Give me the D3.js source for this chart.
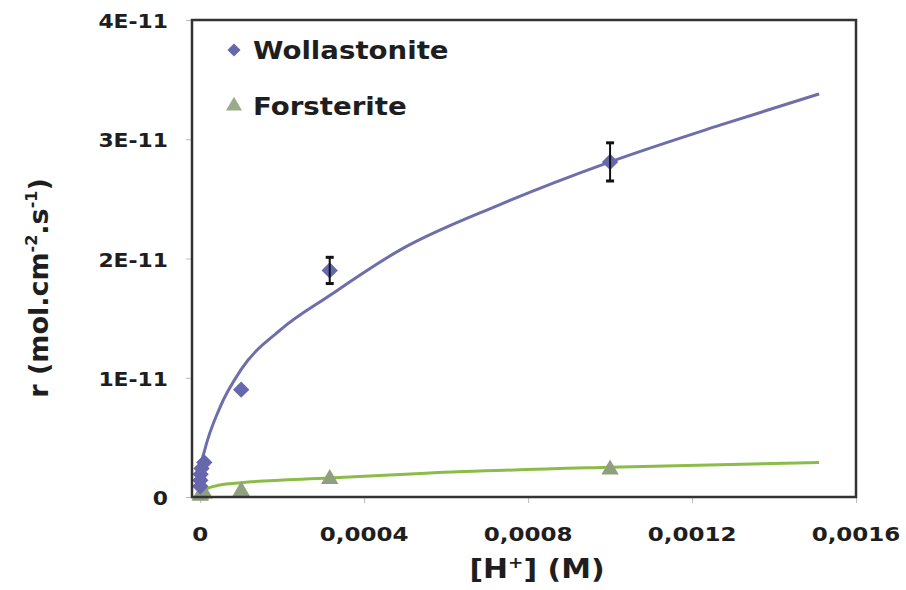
<!DOCTYPE html>
<html>
<head>
<meta charset="utf-8">
<script src="https://cdn.jsdelivr.net/npm/d3@7"></script>
<style>
  body { margin: 0; background: #fff; }
  text { font-family: "DejaVu Sans", "Open Sans", sans-serif; }
</style>
</head>
<body>
<div id="chart-area"></div>
<script>
// values, r in units of 1E-11
const wollX = [1e-7, 3e-7, 1e-6, 3.16e-6, 1e-5, 1e-4, 3.16e-4, 1e-3];
const wollR = [0.09, 0.14, 0.19, 0.24, 0.29, 0.90, 1.90, 2.81];
const wollErr = [0, 0, 0, 0, 0, 0, 0.11, 0.16];

const forsX = [1e-7, 1e-6, 1e-5, 1e-4, 3.16e-4, 1e-3];
const forsR = [0.01, 0.02, 0.03, 0.05, 0.15, 0.23];

// trend lines
const wollFitX = [0, 2e-6, 1e-5, 4.8e-5, 1e-4, 1.95e-4, 3.16e-4, 4.87e-4, 7.3e-4, 1e-3, 1.27e-3, 1.51e-3];
const wollFitR = [0.15, 0.26, 0.38, 0.75, 1.07, 1.40, 1.69, 2.07, 2.45, 2.81, 3.12, 3.38];
const forsFitX = [0, 1e-5, 4.8e-5, 1e-4, 3.16e-4, 5.5e-4, 1e-3, 1.51e-3];
const forsFitR = [0.03, 0.06, 0.10, 0.12, 0.16, 0.20, 0.25, 0.29];

const xTicks = [0, 0.0004, 0.0008, 0.0012, 0.0016];
const yTicks = [0, 1, 2, 3, 4];
const yTickLabels = ["0", "1E-11", "2E-11", "3E-11", "4E-11"];

const WOLL_COLOR = "#6767ad";
const WOLL_LINE = "#6e6eaa";
const FORS_COLOR = "#8f9f80";
const FORS_LINE = "#8cbc48";
const TEXT_COLOR = "#1e1e1e";
const STRETCH = 1.15; // the picture's lettering is drawn wide

let plotLeft = 192, plotRight = 856, plotTop = 20, plotBottom = 497;

const svg = d3.select("#chart-area").append("svg")
    .attr("width", 906)
    .attr("height", 590);

const x = d3.scaleLinear().domain([-0.00002, 0.0016]).range([plotLeft, plotRight]);
const y = d3.scaleLinear().domain([0, 4]).range([plotBottom, plotTop]);

// tick marks
svg.append("g")
    .attr("transform", `translate(0,${plotBottom})`)
    .call(d3.axisBottom(x).tickValues(xTicks).tickSize(6).tickFormat(""))
    .call(g => g.select(".domain").remove())
    .call(g => g.selectAll("line").attr("stroke", "#bbb"));

svg.append("g")
    .attr("transform", `translate(${plotLeft},0)`)
    .call(d3.axisLeft(y).tickValues(yTicks).tickSize(6).tickFormat(""))
    .call(g => g.select(".domain").remove())
    .call(g => g.selectAll("line").attr("stroke", "#bbb"));

// tick labels
svg.append("g").selectAll("text")
    .data(xTicks)
    .join("text")
    .attr("transform", d => `translate(${x(d)},541) scale(${STRETCH},1)`)
    .attr("text-anchor", "middle")
    .attr("font-size", "20px")
    .attr("font-weight", "bold")
    .attr("fill", TEXT_COLOR)
    .text(d => d === 0 ? "0" : d3.format(".4f")(d).replace(".", ","));

svg.append("g").selectAll("text")
    .data(yTicks)
    .join("text")
    .attr("transform", d => `translate(168,${y(d) + 8}) scale(${STRETCH * 0.95},1)`)
    .attr("text-anchor", "end")
    .attr("font-size", "20px")
    .attr("font-weight", "bold")
    .attr("fill", TEXT_COLOR)
    .text((d, i) => yTickLabels[i]);

// axis titles
const xTitle = svg.append("text")
    .attr("transform", `translate(537,578) scale(${STRETCH},1)`)
    .attr("text-anchor", "middle")
    .attr("font-size", "26px")
    .attr("font-weight", "bold")
    .attr("fill", TEXT_COLOR);
xTitle.append("tspan").text("[H");
xTitle.append("tspan").attr("font-size", "16px").attr("dy", -10).text("+");
xTitle.append("tspan").attr("dy", 10).text("] (M)");

const yTitle = svg.append("text")
    .attr("transform", "translate(48,288) rotate(-90)")
    .attr("text-anchor", "middle")
    .attr("font-size", "27px")
    .attr("font-weight", "bold")
    .attr("fill", TEXT_COLOR);
yTitle.append("tspan").text("r (mol.cm");
yTitle.append("tspan").attr("font-size", "16px").attr("dy", -11).text("-2");
yTitle.append("tspan").attr("dy", 11).text(".s");
yTitle.append("tspan").attr("font-size", "16px").attr("dy", -11).text("-1");
yTitle.append("tspan").attr("dy", 11).text(")");

// trend lines
const line = d3.line()
    .x(d => x(d[0]))
    .y(d => y(d[1]))
    .curve(d3.curveMonotoneX);

svg.append("path")
    .datum(d3.zip(wollFitX, wollFitR))
    .attr("d", line)
    .attr("fill", "none")
    .attr("stroke", WOLL_LINE)
    .attr("stroke-width", 3);

svg.append("path")
    .datum(d3.zip(forsFitX, forsFitR))
    .attr("d", line)
    .attr("fill", "none")
    .attr("stroke", FORS_LINE)
    .attr("stroke-width", 3);

// markers
const diamond = d3.symbol().type(d3.symbolDiamond2).size(170);
const triangle = d3.symbol().type(d3.symbolTriangle).size(130);

svg.append("g").selectAll("path")
    .data(d3.zip(forsX, forsR))
    .join("path")
    .attr("d", triangle)
    .attr("transform", d => `translate(${x(d[0])},${y(d[1])})`)
    .attr("fill", FORS_COLOR);

svg.append("g").selectAll("path")
    .data(d3.zip(wollX, wollR))
    .join("path")
    .attr("d", diamond)
    .attr("transform", d => `translate(${x(d[0])},${y(d[1])})`)
    .attr("fill", WOLL_COLOR);

// error bars
const errData = d3.zip(wollX, wollR, wollErr).filter(d => d[2] > 0);
const errG = svg.append("g").attr("stroke", "#111").attr("stroke-width", 2);
errData.forEach(d => {
    let cx = x(d[0]), top = y(d[1] + d[2]), bot = y(d[1] - d[2]);
    errG.append("line").attr("x1", cx).attr("x2", cx).attr("y1", top).attr("y2", bot);
    errG.append("line").attr("x1", cx - 4).attr("x2", cx + 4).attr("y1", top).attr("y2", top).attr("stroke-width", 3);
    errG.append("line").attr("x1", cx - 4).attr("x2", cx + 4).attr("y1", bot).attr("y2", bot).attr("stroke-width", 3);
});

// plot frame
svg.append("rect")
    .attr("x", plotLeft)
    .attr("y", plotTop)
    .attr("width", plotRight - plotLeft)
    .attr("height", plotBottom - plotTop)
    .attr("fill", "none")
    .attr("stroke", "#333")
    .attr("stroke-width", 2.5);

// legend
const legend = [
    {name: "Wollastonite", symbol: d3.symbol().type(d3.symbolDiamond2).size(110), color: WOLL_COLOR, y: 50},
    {name: "Forsterite", symbol: d3.symbol().type(d3.symbolTriangle).size(110), color: "#9aab8c", y: 106}
];
legend.forEach(l => {
    svg.append("path")
        .attr("d", l.symbol)
        .attr("transform", `translate(234,${l.y})`)
        .attr("fill", l.color);
    svg.append("text")
        .attr("transform", `translate(253,${l.y + 9}) scale(${STRETCH},1)`)
        .attr("font-size", "24px")
        .attr("font-weight", "bold")
        .attr("fill", TEXT_COLOR)
        .text(l.name);
});
</script>
</body>
</html>
